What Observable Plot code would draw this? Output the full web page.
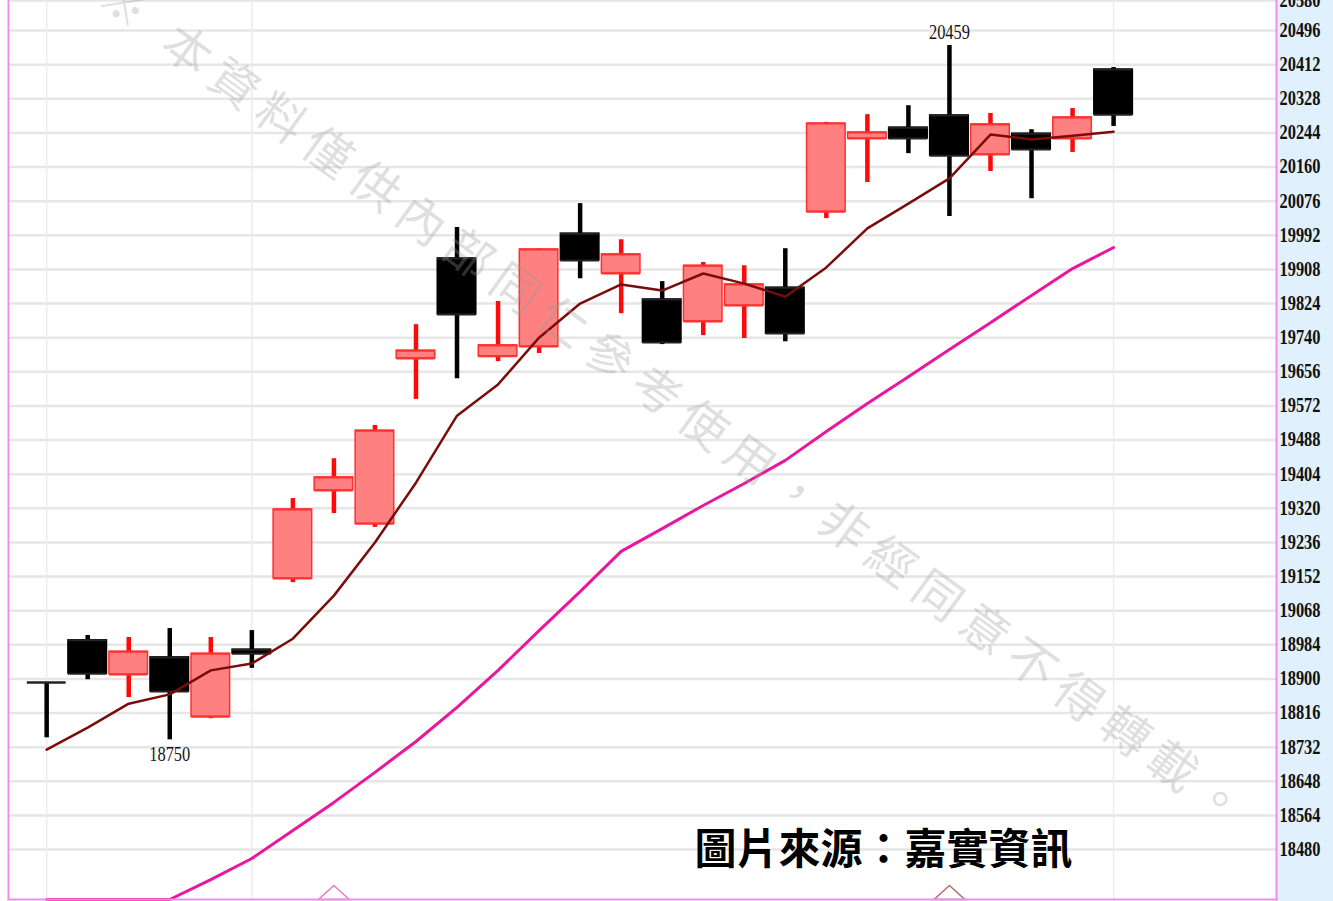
<!DOCTYPE html>
<html><head><meta charset="utf-8">
<script src="https://cdn.jsdelivr.net/npm/d3@7"></script>
<script src="https://cdn.jsdelivr.net/npm/@observablehq/plot@0.6"></script>
<style>
html,body{margin:0;padding:0;background:#fff;}
#chart svg{display:block;}
</style></head><body><div id="chart"></div>
<script>
// --- data ---
const openP  = [18891,18995,18911,18953,18807,18972,19147,19364,19282,19689,19935,19694,19718,19996,19898,19834,19780,19819,19863,20050,20230,20257,20287,20191,20242,20230,20400];
const highP  = [18891,19007,19002,19024,19002,19019,19344,19442,19524,19772,20011,19829,19959,20070,19981,19878,19925,19917,19959,20270,20289,20311,20459,20292,20252,20304,20405];
const lowP   = [18755,18898,18854,18750,18802,18926,19137,19307,19273,19588,19639,19681,19701,19885,19799,19723,19745,19738,19730,20033,20122,20193,20038,20149,20082,20196,20260];
const closeP = [18891,18913,18967,18869,18962,18962,19317,19396,19511,19708,19797,19721,19957,19930,19945,19728,19917,19871,19750,20267,20245,20230,20188,20265,20203,20282,20289];
const ma5    = [18726,18780,18839,18862,18921,18938,18999,19105,19236,19383,19548,19625,19740,19824,19871,19856,19898,19873,19841,19913,20009,20070,20132,20240,20228,20237,20247];
const ma20   = [18250,18280,18310,18350,18406,18458,18527,18596,18670,18746,18830,18921,19019,19115,19214,19270,19327,19381,19438,19509,19578,19644,19711,19777,19844,19910,19962];
const yTicks = [18480,18564,18648,18732,18816,18900,18984,19068,19152,19236,19320,19404,19488,19572,19656,19740,19824,19908,19992,20076,20160,20244,20328,20412,20496,20580];
const gridDays = [0,5,26];
const markerDays = [7,22];
const markerColors = ["#e47cc4","#b07070"];
const lowNote = [{i:3, v:18750, label:"18750"}];
const highNote = [{i:22, v:20459, label:"20459"}];
const watermark = "※ 本資料僅供內部同仁參考使用，非經同意不得轉載。";
const caption = "圖片來源：嘉實資訊";

const candles = openP.map((o,i)=>({i, open:o, high:highP[i], low:lowP[i], close:closeP[i], up: closeP[i] > o}));
const upColor = d => d.up ? "#ff0a0a" : "#000000";

// wide, flat open triangle marker
const flatTriangle = {
  draw(ctx, size) {
    const r = Math.sqrt(size / Math.PI);
    ctx.moveTo(0, -r);
    ctx.lineTo(r * 1.1, 0);
    ctx.lineTo(-r * 1.1, 0);
    ctx.closePath();
  }
};

const chart = Plot.plot({
  width:1333, height:901,
  marginLeft:8, marginRight:57, marginTop:0, marginBottom:2,
  style:{background:"linear-gradient(to right, #ffffff 1276px, #e0f0fc 1276px)", fontFamily:"'Liberation Serif', serif"},
  x:{domain:[-0.93,29.97], axis:null},
  y:{domain:[18357,20570], clamp:true, axis:null},
  color:{type:"identity"},
  marks:[
    Plot.gridY(yTicks,{stroke:"#e6e6e6", strokeOpacity:1, strokeWidth:2.5}),
    Plot.ruleX(gridDays,{stroke:"#ececec", strokeWidth:1.5}),
    Plot.ruleX(candles,{x:"i", y1:"low", y2:"high", stroke:upColor, strokeWidth:4.5}),
    Plot.rect(candles,{x1:d=>d.i-0.47, x2:d=>d.i+0.47, y1:"open", y2:"close",
      fill:d=>d.up?"#ff8080":"#000000", stroke:d=>d.up?"#ff3030":"#000000", strokeWidth:1.5}),
    Plot.ruleY(candles,{y:"open", x1:d=>d.i-0.47, x2:d=>d.i+0.47, stroke:d=>d.up?"#ff3030":"#222", strokeWidth:2}),
    Plot.ruleY(candles,{y:"close", x1:d=>d.i-0.47, x2:d=>d.i+0.47, stroke:d=>d.up?"#ff3030":"#222", strokeWidth:2}),
    Plot.line(ma20,{x:(d,i)=>i, y:d=>d, stroke:"#e8179c", strokeWidth:3}),
    Plot.line(ma5,{x:(d,i)=>i, y:d=>d, stroke:"#7a0c0c", strokeWidth:2.5}),
    Plot.dot(markerDays,{x:d=>d, frameAnchor:"bottom", symbol:flatTriangle, r:14, fill:"none",
      stroke:(d,i)=>markerColors[i], strokeWidth:1.5}),
    Plot.text(lowNote,{x:"i", y:"v", text:"label", dy:14, fontSize:21, fill:"#151515"}),
    Plot.text(highNote,{x:"i", y:"v", text:"label", dy:-13, fontSize:21, fill:"#151515"}),
    Plot.axisY(yTicks,{anchor:"right", tickSize:0, tickPadding:3, tickFormat:d3.format("d"),
      fontSize:20, fontWeight:"bold", fill:"#111"}),
    Plot.text([watermark],{frameAnchor:"middle", text:d=>d, rotate:36, dx:32, dy:-44, fontSize:48,
      fill:"#9a9a9a", fillOpacity:0.33, fontFamily:"'Noto Sans CJK TC', sans-serif"}),
    Plot.text([caption],{frameAnchor:"middle", text:d=>d, dx:241, dy:401, fontSize:42, fontWeight:"bold",
      fill:"#000", fontFamily:"'Noto Sans CJK TC', sans-serif"}),
    Plot.frame({anchor:"left", stroke:"#f08cf0", strokeWidth:2}),
    Plot.frame({anchor:"bottom", stroke:"#f08cf0", strokeWidth:2}),
    Plot.frame({anchor:"right", stroke:"#f08cf0", strokeWidth:2})
  ]
});
document.getElementById("chart").appendChild(chart);
d3.select(chart).selectAll("text").each(function(){
  const t = this.textContent;
  if (/^\d{5}$/.test(t)) d3.select(this).attr("textLength", 41).attr("lengthAdjust","spacingAndGlyphs");
  if (t.indexOf("※") === 0) d3.select(this).style("letter-spacing","10px");
});
</script></body></html>
